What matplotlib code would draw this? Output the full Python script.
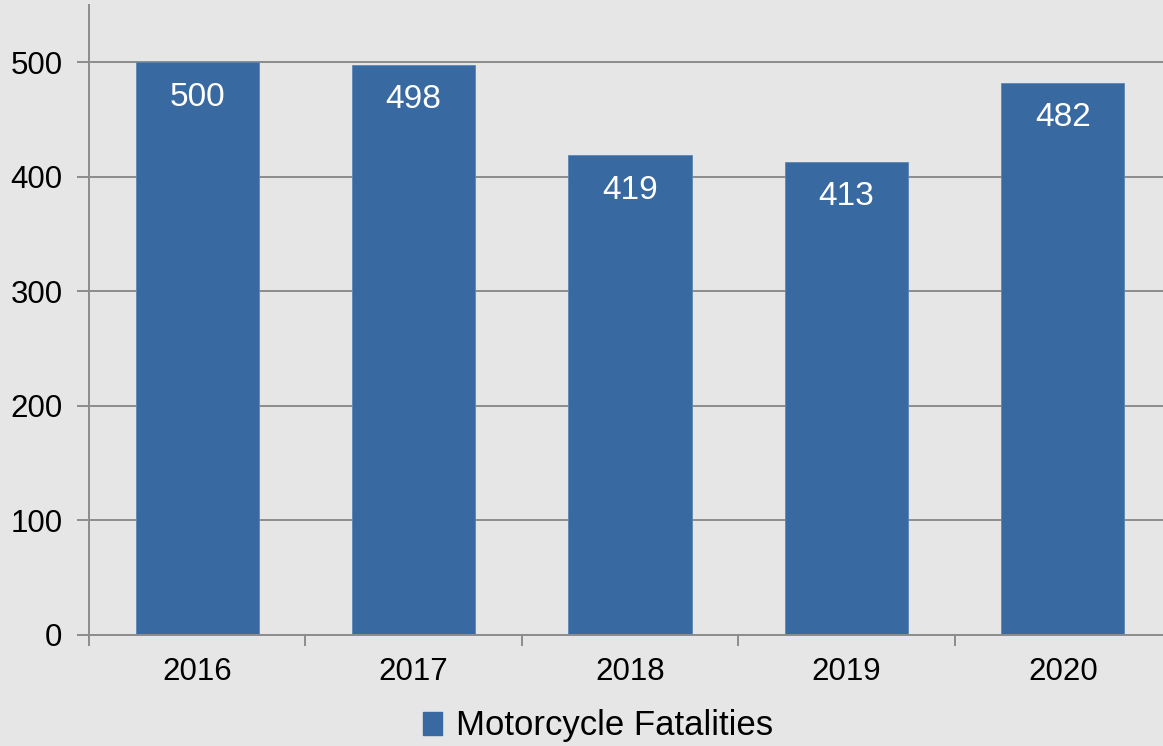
import matplotlib
matplotlib.use("Agg")
import matplotlib.pyplot as plt
import numpy as np
from matplotlib.patches import Patch

years = ["2016", "2017", "2018", "2019", "2020"]
fatalities = [500, 498, 419, 413, 482]
yticks = [0, 100, 200, 300, 400, 500]
series_name = "Motorcycle Fatalities"

bg = "#e6e6e6"
bar_color = "#3869a1"
grid_color = "#8c8c8c"

plt.rcParams['font.family'] = ['Liberation Sans', 'DejaVu Sans']

W, H = 1163, 746
fig = plt.figure(figsize=(W/100, H/100), dpi=100, facecolor=bg)
ax = fig.add_axes([89/W, (H-635)/H, (1171-89)/W, 630/H])
ax.set_facecolor(bg)

x = np.arange(len(years))
bars = ax.bar(x, fatalities, width=0.57, color=bar_color, zorder=3,
              edgecolor="#5b86b6", linewidth=0.6)

ax.set_ylim(0, 550)
ax.set_xlim(-0.5, len(years) - 0.5)
ax.set_yticks(yticks)
ax.set_yticklabels([str(v) for v in yticks], fontsize=22.5)
ax.yaxis.grid(True, color=grid_color, linewidth=1.4, zorder=1)
ax.tick_params(axis='y', length=9, width=1.4, color=grid_color, pad=10, labelcolor="black")

# category boundary ticks (major) and labels at centers (minor)
ax.set_xticks(np.arange(-0.5, len(years), 1.0))
ax.set_xticklabels([])
ax.tick_params(axis='x', which='major', length=8, width=1.4, color=grid_color)
ax.set_xticks(x, minor=True)
ax.set_xticklabels(years, minor=True, fontsize=22.5)
ax.tick_params(axis='x', which='minor', length=0, pad=16, labelcolor="black")

for s in ['top', 'right']:
    ax.spines[s].set_visible(False)
for s in ['left', 'bottom']:
    ax.spines[s].set_color(grid_color)
    ax.spines[s].set_linewidth(1.4)
    ax.spines[s].set_zorder(4)

for xi, v in zip(x, fatalities):
    ax.annotate(str(v), (xi, v), xytext=(0, -35), textcoords='offset pixels',
                ha='center', va='center', color='white', fontsize=24, zorder=5)

handle = Patch(facecolor=bar_color, edgecolor=bar_color)
fig.legend([handle], [series_name], loc='center', bbox_to_anchor=(598/W, 1 - 726/H),
           frameon=False, fontsize=25, handlelength=0.55, handleheight=0.65,
           handletextpad=0.4, borderpad=0)

fig.savefig("out.png", dpi=100, facecolor=bg)
